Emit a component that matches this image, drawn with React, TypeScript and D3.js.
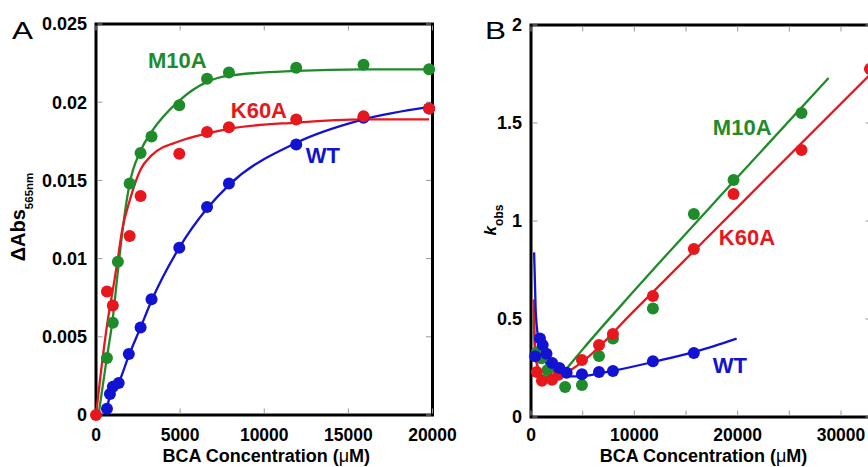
import React, { useEffect, useRef } from 'react';
import * as d3 from 'd3';

// colours used by the original figure
const GREEN = '#1f8b2b';
const RED = '#e6171d';
const BLUE = '#1212d2';

// ---- Panel A : ΔAbs565nm vs BCA concentration (µM)
const aWT_conc = [650, 830, 1000, 1350, 1950, 2650, 3300, 4950, 6600, 7900, 11900, 15900, 19800];
const aWT_abs = [0.0004, 0.00134, 0.0018, 0.00205, 0.0039, 0.0056, 0.0074, 0.0107, 0.0133, 0.0148, 0.0173, 0.0190, 0.0196];
const aM10A_conc = [650, 1000, 1300, 2000, 2650, 3300, 4950, 6600, 7900, 11900, 15900, 19800];
const aM10A_abs = [0.00364, 0.0059, 0.0098, 0.0148, 0.01675, 0.0178, 0.0198, 0.0215, 0.0219, 0.0222, 0.0224, 0.0221];
const aK60A_conc = [0, 650, 1000, 2000, 2650, 4950, 6600, 7900, 11900, 15900, 19800];
const aK60A_abs = [0, 0.0079, 0.0070, 0.01144, 0.0140, 0.0167, 0.0181, 0.0184, 0.0189, 0.0191, 0.0196];

// fitted curves
const aWT_fitX = [600, 830, 1000, 1350, 1950, 2650, 3300, 4950, 6600, 7900, 11900, 15900, 19800];
const aWT_fitY = [0.0002, 0.0012, 0.0016, 0.0021, 0.0038, 0.0056, 0.0073, 0.0107, 0.0132, 0.0147, 0.0174, 0.0189, 0.0197];
const aM10A_fitX = [150, 650, 1000, 1300, 1600, 2000, 2650, 3300, 4950, 6600, 7900, 11900, 15900, 19800];
const aM10A_fitY = [0, 0.0037, 0.0062, 0.0092, 0.0120, 0.0148, 0.0169, 0.0181, 0.0201, 0.0213, 0.0217, 0.0220, 0.0221, 0.0221];
const aK60A_fitX = [0, 300, 650, 1000, 1300, 1550, 2000, 2650, 3300, 4950, 6600, 7900, 11900, 15900, 19800];
const aK60A_fitY = [0, 0.0028, 0.0057, 0.0080, 0.0100, 0.0118, 0.0137, 0.0157, 0.0166, 0.0175, 0.0180, 0.0183, 0.0187, 0.0189, 0.0189];

const aXTicks = [0, 5000, 10000, 15000, 20000];
const aYTicks = [0, 0.005, 0.01, 0.015, 0.02, 0.025];
const aYTickLabels = ['0', '0.005', '0.01', '0.015', '0.02', '0.025'];

// ---- Panel B : kobs vs BCA concentration (µM)
const bWT_conc = [400, 870, 1130, 1500, 2050, 2750, 3450, 4930, 6580, 7930, 11800, 15760];
const bWT_k = [0.31, 0.40, 0.367, 0.323, 0.275, 0.25, 0.226, 0.218, 0.229, 0.235, 0.285, 0.327];
const bM10A_conc = [560, 1000, 1600, 3300, 4930, 6580, 7930, 11800, 15760, 19600, 26180];
const bM10A_k = [0.33, 0.30, 0.24, 0.153, 0.163, 0.311, 0.40, 0.553, 1.036, 1.209, 1.551];
const bK60A_conc = [560, 1060, 2030, 2650, 4930, 6580, 7930, 11800, 15760, 19600, 26180, 32800];
const bK60A_k = [0.23, 0.185, 0.19, 0.215, 0.291, 0.367, 0.423, 0.617, 0.857, 1.138, 1.362, 1.776];

const bWT_fitX = [300, 450, 650, 900, 1300, 2000, 3000, 4000, 5000, 6600, 8000, 12000, 16000, 19900];
const bWT_fitY = [0.84, 0.55, 0.42, 0.35, 0.29, 0.245, 0.215, 0.207, 0.208, 0.222, 0.236, 0.283, 0.335, 0.40];
const bM10A_fitX = [250, 400, 700, 1200, 2000, 3000, 3500, 5000, 10000, 20000, 28800];
const bM10A_fitY = [0.5, 0.33, 0.25, 0.21, 0.2, 0.22, 0.25, 0.345, 0.645, 1.224, 1.73];
const bK60A_fitX = [250, 400, 700, 1200, 2000, 3000, 4000, 4930, 10000, 20000, 32800];
const bK60A_fitY = [0.6, 0.35, 0.24, 0.2, 0.195, 0.215, 0.245, 0.28, 0.543, 1.071, 1.747];

const bXTicks = [0, 10000, 20000, 30000];
const bXMinor = [5000, 15000, 25000];
const bYTicks = [0, 0.5, 1, 1.5, 2];
const bYTickLabels = ['0', '0.5', '1', '1.5', '2'];

const FONT = "'Liberation Sans', Arial, Helvetica, sans-serif";

const zip = (xs: number[], ys: number[]) => xs.map((x, i) => [x, ys[i]] as [number, number]);

const App = () => {
  const svgRef = useRef<SVGSVGElement>(null);

  useEffect(() => {
    const svg = d3.select(svgRef.current);
    svg.selectAll('*').remove();

    const drawPanel = (opts: any) => {
      const { x, y, xTicks, xMinor, yTicks, yLabels, series, letter, letterX } = opts;
      const g = svg.append('g');
      const [x0, x1] = x.range();
      const [y0, y1] = y.range();

      // frame
      g.append('rect')
        .attr('x', x0).attr('y', y1)
        .attr('width', x1 - x0).attr('height', y0 - y1)
        .attr('fill', 'none').attr('stroke', '#000').attr('stroke-width', 3);

      // inward ticks on all four sides
      const tickLen = 5;
      [...xTicks, ...xMinor].forEach((t: number) => {
        g.append('line').attr('x1', x(t)).attr('x2', x(t)).attr('y1', y0 - 1.5).attr('y2', y0 - 1.5 - tickLen)
          .attr('stroke', '#999').attr('stroke-width', 1);
        g.append('line').attr('x1', x(t)).attr('x2', x(t)).attr('y1', y1 + 1.5).attr('y2', y1 + 1.5 + tickLen)
          .attr('stroke', '#999').attr('stroke-width', 1);
      });
      yTicks.forEach((t: number) => {
        g.append('line').attr('x1', x0 + 1.5).attr('x2', x0 + 1.5 + tickLen).attr('y1', y(t)).attr('y2', y(t))
          .attr('stroke', '#999').attr('stroke-width', 1);
        g.append('line').attr('x1', x1 - 1.5).attr('x2', x1 - 1.5 - tickLen).attr('y1', y(t)).attr('y2', y(t))
          .attr('stroke', '#999').attr('stroke-width', 1);
      });

      // tick labels
      g.selectAll('.xl').data(xTicks).enter().append('text')
        .attr('x', (d: number) => x(d)).attr('y', 441)
        .attr('text-anchor', 'middle')
        .style('font', `bold 17.5px ${FONT}`)
        .text((d: number) => String(d));
      g.selectAll('.yl').data(yTicks).enter().append('text')
        .attr('x', x0 - 9).attr('y', (d: number) => y(d))
        .attr('dy', '0.36em')
        .attr('text-anchor', 'end')
        .style('font', `bold 18px ${FONT}`)
        .text((_: number, i: number) => yLabels[i]);

      // x axis title
      const xt = g.append('text')
        .attr('x', (x0 + x1) / 2 + 2).attr('y', 462)
        .attr('text-anchor', 'middle')
        .style('font', `bold 18px ${FONT}`);
      xt.append('tspan').text('BCA Concentration (');
      xt.append('tspan').style('font-weight', 'normal').text('μ');
      xt.append('tspan').text('M)');

      // panel letter
      g.append('text')
        .attr('x', letterX).attr('y', 39)
        .attr('textLength', 21).attr('lengthAdjust', 'spacingAndGlyphs')
        .style('font', `24px ${FONT}`)
        .text(letter);

      // fitted lines
      const line = d3.line<[number, number]>()
        .x(d => x(d[0]))
        .y(d => y(d[1]))
        .curve(d3.curveMonotoneX);

      series.forEach((s: any) => {
        g.append('path')
          .datum(zip(s.fitX, s.fitY))
          .attr('fill', 'none')
          .attr('stroke', s.color)
          .attr('stroke-width', 2.3)
          .attr('d', line);
      });

      // data points
      series.forEach((s: any) => {
        g.selectAll(null)
          .data(zip(s.xs, s.ys))
          .enter()
          .append('circle')
          .attr('cx', d => x(d[0]))
          .attr('cy', d => y(d[1]))
          .attr('r', 6)
          .attr('fill', s.color);
      });

      // series labels
      series.forEach((s: any) => {
        g.append('text')
          .attr('x', x(s.label[1])).attr('y', y(s.label[2]))
          .attr('fill', s.color)
          .style('font', `bold 22px ${FONT}`)
          .text(s.label[0]);
      });

      return g;
    };

    // Panel A
    const xA = d3.scaleLinear().domain([0, 20000]).range([96, 432.5]);
    const yA = d3.scaleLinear().domain([0, 0.025]).range([415, 24]);
    drawPanel({
      x: xA, y: yA,
      xTicks: aXTicks, xMinor: [],
      yTicks: aYTicks, yLabels: aYTickLabels,
      letter: 'A', letterX: 12,
      series: [
        { color: BLUE, xs: aWT_conc, ys: aWT_abs, fitX: aWT_fitX, fitY: aWT_fitY, label: ['WT', 12460, 0.0161] },
        { color: GREEN, xs: aM10A_conc, ys: aM10A_abs, fitX: aM10A_fitX, fitY: aM10A_fitY, label: ['M10A', 3090, 0.0222] },
        { color: RED, xs: aK60A_conc, ys: aK60A_abs, fitX: aK60A_fitX, fitY: aK60A_fitY, label: ['K60A', 8010, 0.019] },
      ],
    });

    // y title A: ΔAbs565nm
    const ytA = svg.append('text')
      .attr('transform', 'translate(25,217) rotate(-90)')
      .attr('text-anchor', 'middle')
      .style('font', `bold 20px ${FONT}`);
    ytA.append('tspan').text('ΔAbs');
    ytA.append('tspan').attr('dy', 8).style('font-size', '11.5px').text('565nm');

    // Panel B
    const xB = d3.scaleLinear().domain([0, 33000]).range([531, 872]);
    const yB = d3.scaleLinear().domain([0, 2]).range([417, 25]);
    drawPanel({
      x: xB, y: yB,
      xTicks: bXTicks, xMinor: bXMinor,
      yTicks: bYTicks, yLabels: bYTickLabels,
      letter: 'B', letterX: 485,
      series: [
        { color: GREEN, xs: bM10A_conc, ys: bM10A_k, fitX: bM10A_fitX, fitY: bM10A_fitY, label: ['M10A', 17600, 1.439] },
        { color: RED, xs: bK60A_conc, ys: bK60A_k, fitX: bK60A_fitX, fitY: bK60A_fitY, label: ['K60A', 18180, 0.878] },
        { color: BLUE, xs: bWT_conc, ys: bWT_k, fitX: bWT_fitX, fitY: bWT_fitY, label: ['WT', 17600, 0.2245] },
      ],
    });

    // y title B: kobs
    const ytB = svg.append('text')
      .attr('transform', 'translate(496,220) rotate(-90)')
      .attr('text-anchor', 'middle')
      .style('font', `bold 17px ${FONT}`);
    ytB.append('tspan').style('font-style', 'italic').text('k');
    ytB.append('tspan').attr('dy', 7).style('font-size', '12px').text('obs');
  }, []);

  return (
    <svg
      ref={svgRef}
      width={868}
      height={467}
      style={{ position: 'absolute', left: 0, top: 0, background: '#fff' }}
    />
  );
};

export default App;
